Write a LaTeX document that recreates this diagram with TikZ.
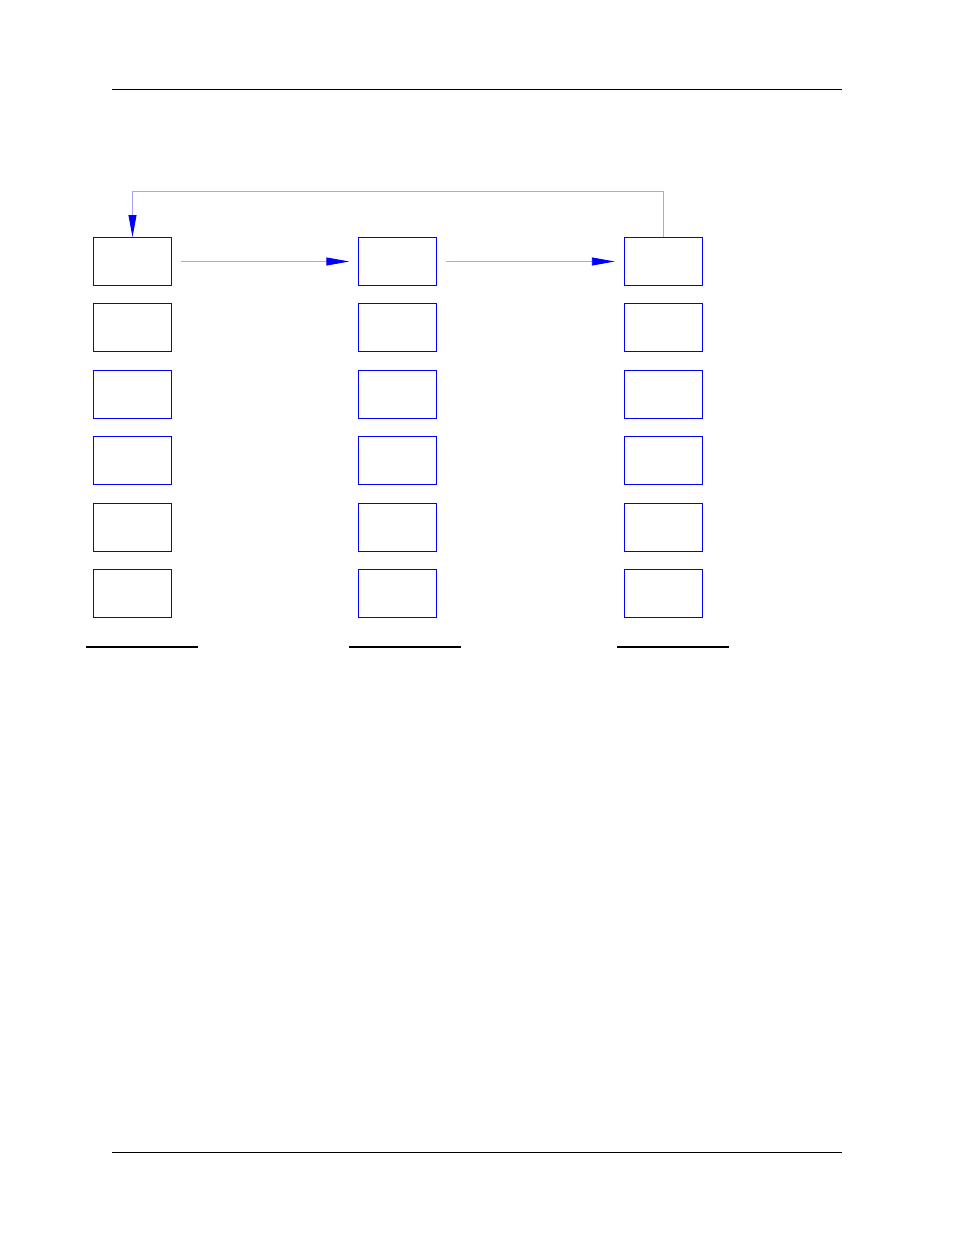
\documentclass[tikz,border=0pt]{standalone}
\usepackage{tikz}
\usetikzlibrary{arrows.meta}

\begin{document}
\begin{tikzpicture}[
            x=1bp, y=-1bp,
            slot/.style={draw=blue, line width=1bp, minimum width=78bp,
            minimum height=48bp, inner sep=0pt},
            flow/.style={line width=0.9bp, color=blue!35,
            -{Triangle[length=23bp, width=8bp, blue]},
            shorten <=9bp, shorten >=9bp},
            back/.style={line width=0.9bp, color=blue!35,
            -{Triangle[length=22bp, width=8bp, blue]}},
            rule/.style={line width=1bp},
            base line/.style={line width=1.8bp}
            ]
            \useasboundingbox (0,0) rectangle (954,1235);

            % page rules
            \draw[rule] (112,89)   -- (842,89);
            \draw[rule] (112,1152) -- (842,1152);

            % left column
            \node[slot] (a1) at (132.5,261.5) {};
            \node[slot] (a2) at (132.5,327.9) {};
            \node[slot] (a3) at (132.5,394.3) {};
            \node[slot] (a4) at (132.5,460.7) {};
            \node[slot] (a5) at (132.5,527.1) {};
            \node[slot] (a6) at (132.5,593.5) {};

            % middle column
            \node[slot] (b1) at (397.8,261.5) {};
            \node[slot] (b2) at (397.8,327.9) {};
            \node[slot] (b3) at (397.8,394.3) {};
            \node[slot] (b4) at (397.8,460.7) {};
            \node[slot] (b5) at (397.8,527.1) {};
            \node[slot] (b6) at (397.8,593.5) {};

            % right column
            \node[slot] (c1) at (663.3,261.5) {};
            \node[slot] (c2) at (663.3,327.9) {};
            \node[slot] (c3) at (663.3,394.3) {};
            \node[slot] (c4) at (663.3,460.7) {};
            \node[slot] (c5) at (663.3,527.1) {};
            \node[slot] (c6) at (663.3,593.5) {};

            % column base lines
            \draw[base line] (86,646.7)  -- (198,646.7);
            \draw[base line] (349,646.7) -- (461,646.7);
            \draw[base line] (617,646.7) -- (729,646.7);

            % connectors
            \coordinate (loop) at (0,191.3);
            \draw[flow] (a1.east) -- (b1.west);
            \draw[flow] (b1.east) -- (c1.west);
            \draw[back] (c1.north) -- (c1.north |- loop) -| (a1.north);

        \end{tikzpicture}
\end{document}
